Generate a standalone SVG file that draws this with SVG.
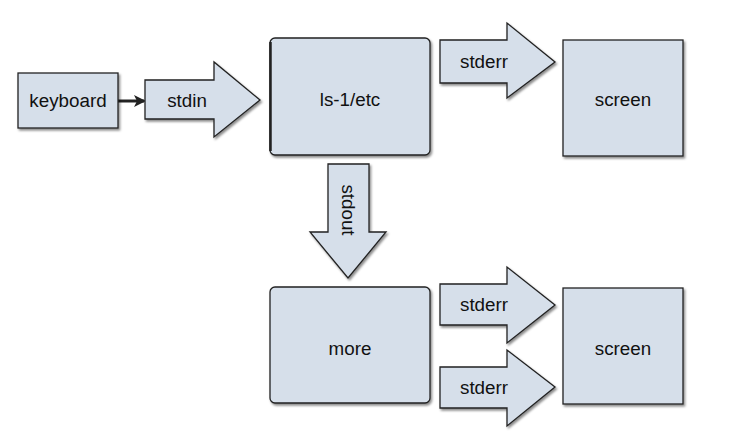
<svg xmlns="http://www.w3.org/2000/svg" width="745" height="445" viewBox="0 0 745 445">
<style>
.s{fill:#d6dfea;stroke:#222;stroke-width:1.3;filter:url(#sh)}
.t{font-family:"Liberation Sans",Arial,sans-serif;font-size:18.8px;fill:#111;text-anchor:middle}
</style>
<defs>
<filter id="sh" x="-10%" y="-10%" width="130%" height="130%">
<feDropShadow dx="1.5" dy="2" stdDeviation="1.2" flood-color="#000" flood-opacity="0.45"/>
</filter>
<marker id="ah" markerWidth="12" markerHeight="12" refX="10" refY="6" orient="auto" markerUnits="userSpaceOnUse">
<path d="M0,0 L12,6 L0,12 L3,6 z" fill="#222"/>
</marker>
</defs>
<g id="connectors">
<line x1="118" y1="101" x2="144" y2="101" stroke="#222" stroke-width="3" marker-end="url(#ah)"/>
<g id="stdin"><path class="s" d="M145,80 L214,80 L214,62 L260,100 L214,137 L214,119 L145,119 Z"/><text class="t" x="187" y="107">stdin</text></g>
<g id="stderr1"><path class="s" d="M440,40 L507,40 L507,23 L555,62 L507,98 L507,83 L440,83 Z"/><text class="t" x="484" y="68">stderr</text></g>
<g id="stdout"><path class="s" d="M328,164 L369,164 L369,232 L386,232 L348,278 L310,232 L328,232 Z"/><text class="t" transform="translate(342,210) rotate(90)" x="0" y="0">stdout</text></g>
<g id="stderr2"><path class="s" d="M440,284 L507,284 L507,267 L555,305 L507,343 L507,325 L440,325 Z"/><text class="t" x="484" y="311">stderr</text></g>
<g id="stderr3"><path class="s" d="M440,367 L507,367 L507,350 L555,387 L507,426 L507,408 L440,408 Z"/><text class="t" x="484" y="394">stderr</text></g>
</g>
<g id="keyboard"><rect class="s" x="18" y="73" width="100" height="55"/><text class="t" x="68" y="107">keyboard</text></g>
<g id="ls"><rect class="s" x="270" y="38" width="160" height="117" rx="5"/><line x1="270.5" y1="42" x2="270.5" y2="151" stroke="#222" stroke-width="2.5"/><text class="t" x="350" y="106">ls-1/etc</text></g>
<g id="screen1"><rect class="s" x="563" y="40" width="120" height="116"/><text class="t" x="623" y="106">screen</text></g>
<g id="more"><rect class="s" x="270" y="287" width="160" height="116" rx="5"/><text class="t" x="350" y="355">more</text></g>
<g id="screen2"><rect class="s" x="563" y="288" width="120" height="116"/><text class="t" x="623" y="355">screen</text></g>
</svg>
